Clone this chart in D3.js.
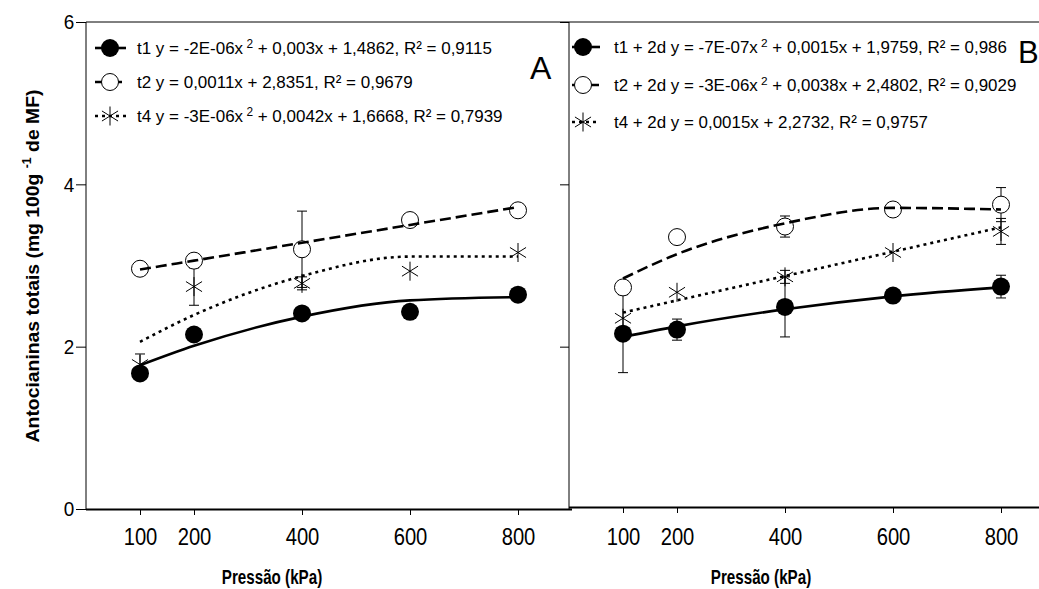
<!DOCTYPE html>
<html><head><meta charset="utf-8">
<script src="https://cdn.jsdelivr.net/npm/d3@7"></script>
<style>
html,body{margin:0;padding:0;background:#fff;}
svg{display:block;}
text{font-family:"Liberation Sans", Arial, sans-serif;}
</style></head>
<body>
<svg id="c" width="1039" height="589"></svg>
<script>
// ---- data ----
const pressures = [100, 200, 400, 600, 800];
const xTicks = [100, 200, 400, 600, 800];
const yTicks = [0, 2, 4, 6];

// Panel A observed means and error (±)
const aT1 = [1.67, 2.15, 2.41, 2.43, 2.64];
const aT1Err = [0, 0, 0, 0, 0];
const aT2 = [2.96, 3.06, 3.20, 3.56, 3.68];
const aT2Err = [0, 0, 0.47, 0, 0];
const aT4 = [1.78, 2.74, 2.78, 2.93, 3.16];
const aT4Err = [0.13, 0.23, 0.08, 0, 0];
// Panel A fitted curves
const aT1Fit = [1.77, 2.01, 2.37, 2.57, 2.61];
const aT2Fit = [2.95, 3.06, 3.28, 3.50, 3.72];
const aT4Fit = [2.06, 2.39, 2.87, 3.11, 3.11];

// Panel B observed means and error (±)
const bT1 = [2.16, 2.21, 2.49, 2.63, 2.74];
const bT1Err = [0.48, 0.13, 0.37, 0, 0.14];
const bT2 = [2.73, 3.35, 3.48, 3.69, 3.75];
const bT2Err = [0, 0, 0.13, 0, 0.21];
const bT4 = [2.35, 2.67, 2.86, 3.16, 3.42];
const bT4Err = [0, 0, 0.08, 0, 0.16];
// Panel B fitted curves
const bT1Fit = [2.12, 2.25, 2.46, 2.62, 2.73];
const bT2Fit = [2.84, 3.14, 3.52, 3.71, 3.69];
const bT4Fit = [2.42, 2.57, 2.87, 3.17, 3.47];

const legendA = [
  {pre: "t1 y = -2E-06x", sup: "2", post: " + 0,003x  + 1,4862, R² = 0,9115"},
  {pre: "t2 y = 0,0011x  + 2,8351, R² = 0,9679", sup: null, post: ""},
  {pre: "t4 y = -3E-06x", sup: "2", post: " + 0,0042x  + 1,6668, R² = 0,7939"}
];
const legendB = [
  {pre: "t1 + 2d y = -7E-07x", sup: "2", post: " + 0,0015x  + 1,9759, R² = 0,986"},
  {pre: "t2 + 2d y = -3E-06x", sup: "2", post: " + 0,0038x  + 2,4802, R² = 0,9029"},
  {pre: "t4 + 2d y = 0,0015x  + 2,2732, R² = 0,9757", sup: null, post: ""}
];

// ---- drawing ----
const svg = d3.select("#c");
const y = d3.scaleLinear().domain([0, 6]).range([509, 22]);
const xA = d3.scaleLinear().domain([0, 900]).range([86, 572]);
const xB = d3.scaleLinear().domain([0, 900]).range([569, 1055]);

const styles = {
  t1: {dash: null, marker: "filled"},
  t2: {dash: "11,5", marker: "open"},
  t4: {dash: "3,4", marker: "star"}
};

function drawMarker(g, type, cx, cy) {
  if (type === "filled") {
    g.append("circle").attr("cx", cx).attr("cy", cy).attr("r", 9).attr("fill", "#000");
  } else if (type === "open") {
    g.append("circle").attr("cx", cx).attr("cy", cy).attr("r", 8.5)
      .attr("fill", "#fff").attr("stroke", "#000").attr("stroke-width", 1);
  } else {
    const r = 9.5;
    [90, 32, -32].forEach(a => {
      const rad = a * Math.PI / 180;
      g.append("line")
        .attr("x1", cx - r * Math.cos(rad)).attr("y1", cy - r * Math.sin(rad))
        .attr("x2", cx + r * Math.cos(rad)).attr("y2", cy + r * Math.sin(rad))
        .attr("stroke", "#000").attr("stroke-width", 1);
    });
  }
}

function drawPanel(x, series) {
  const g = svg.append("g");
  series.forEach(s => {
    s.vals.forEach((v, i) => {
      const e = s.err[i];
      if (e > 0) {
        const px = x(pressures[i]);
        g.append("line").attr("x1", px).attr("x2", px).attr("y1", y(v + e)).attr("y2", y(v - e))
          .attr("stroke", "#000").attr("stroke-width", 1);
        [v + e, v - e].forEach(w => {
          g.append("line").attr("x1", px - 5).attr("x2", px + 5).attr("y1", y(w)).attr("y2", y(w))
            .attr("stroke", "#000").attr("stroke-width", 1);
        });
      }
    });
  });
  series.forEach(s => {
    s.vals.forEach((v, i) => drawMarker(g, styles[s.key].marker, x(pressures[i]), y(v)));
  });
  const line = d3.line().x((d, i) => x(pressures[i])).y(d => y(d)).curve(d3.curveMonotoneX);
  series.forEach(s => {
    g.append("path").attr("d", line(s.fit)).attr("fill", "none")
      .attr("stroke", "#000").attr("stroke-width", 2.6)
      .attr("stroke-dasharray", styles[s.key].dash);
  });
}

// Panel A frame
svg.append("line").attr("x1", 86).attr("x2", 569).attr("y1", 22).attr("y2", 22).attr("stroke", "#000").attr("stroke-width", 1);
svg.append("line").attr("x1", 569).attr("x2", 569).attr("y1", 22).attr("y2", 509).attr("stroke", "#000").attr("stroke-width", 1);
svg.append("line").attr("x1", 86).attr("x2", 86).attr("y1", 22).attr("y2", 509).attr("stroke", "#000").attr("stroke-width", 1);
svg.append("line").attr("x1", 86).attr("x2", 572).attr("y1", 509.5).attr("y2", 509.5).attr("stroke", "#000").attr("stroke-width", 2);
// Panel B frame
svg.append("line").attr("x1", 569).attr("x2", 1039).attr("y1", 22).attr("y2", 22).attr("stroke", "#000").attr("stroke-width", 1);
svg.append("line").attr("x1", 569).attr("x2", 1039).attr("y1", 507.5).attr("y2", 507.5).attr("stroke", "#000").attr("stroke-width", 2);

// Axes (condensed numerals)
function styleAxis(sel, fs, sx) {
  sel.select(".domain").remove();
  sel.selectAll("line").attr("stroke", "#000");
  sel.selectAll("text").attr("fill", "#000").style("font-size", fs + "px")
    .attr("transform", `scale(${sx},1)`);
}
const yAxA = svg.append("g").attr("transform", "translate(86,0)")
  .call(d3.axisLeft(y).tickValues(yTicks).tickSize(10).tickPadding(3).tickFormat(d3.format("d")));
styleAxis(yAxA, 21, 0.9);
const yAxB = svg.append("g").attr("transform", "translate(569,0)")
  .call(d3.axisLeft(y).tickValues(yTicks.filter(d => d > 0)).tickSize(9).tickFormat(""));
styleAxis(yAxB, 21, 1);
const xAxA = svg.append("g").attr("transform", "translate(0,509)")
  .call(d3.axisBottom(xA).tickValues(xTicks).tickSize(6).tickPadding(13).tickFormat(d3.format("d")));
styleAxis(xAxA, 23.5, 0.86);
const xAxB = svg.append("g").attr("transform", "translate(0,507)")
  .call(d3.axisBottom(xB).tickValues(xTicks).tickSize(6).tickPadding(15).tickFormat(d3.format("d")));
styleAxis(xAxB, 23.5, 0.86);

drawPanel(xA, [
  {key: "t4", vals: aT4, err: aT4Err, fit: aT4Fit},
  {key: "t2", vals: aT2, err: aT2Err, fit: aT2Fit},
  {key: "t1", vals: aT1, err: aT1Err, fit: aT1Fit}
]);
drawPanel(xB, [
  {key: "t4", vals: bT4, err: bT4Err, fit: bT4Fit},
  {key: "t2", vals: bT2, err: bT2Err, fit: bT2Fit},
  {key: "t1", vals: bT1, err: bT1Err, fit: bT1Fit}
]);

// Legends: font size fitted so the first row spans the same width as in the reference
function drawLegend(items, mx, lx1, lx2, tx, rows, targetW) {
  const keys = ["t1", "t2", "t4"];
  const texts = [];
  items.forEach((it, i) => {
    const k = keys[i], ry = rows[i];
    const g = svg.append("g");
    g.append("line").attr("x1", lx1).attr("x2", lx2).attr("y1", ry).attr("y2", ry)
      .attr("stroke", "#000").attr("stroke-width", 2.6).attr("stroke-dasharray", styles[k].dash);
    drawMarker(g, styles[k].marker, mx, ry);
    const t = g.append("text").attr("x", tx).attr("y", ry).attr("dy", "0.36em")
      .style("font-size", "15px").attr("fill", "#000");
    t.append("tspan").text(it.pre);
    if (it.sup) {
      t.append("tspan").text(" " + it.sup).style("font-size", "0.7em").attr("dy", "-0.55em");
      t.append("tspan").text(it.post).attr("dy", "0.385em");
    }
    texts.push(t);
  });
  const w = texts[0].node().getBBox().width;
  const fs = 15 * targetW / w;
  texts.forEach(t => t.style("font-size", fs + "px"));
}
drawLegend(legendA, 110, 95, 126, 137, [48, 82, 116], 355);
drawLegend(legendB, 583, 572, 600, 614, [47, 85, 122], 393);

// Panel letters
svg.append("text").attr("x", 530).attr("y", 79).text("A").style("font-size", "32px").attr("fill", "#000");
svg.append("text").attr("x", 1018).attr("y", 63).text("B").style("font-size", "31px").attr("fill", "#000");

// Axis titles (condensed bold)
[272, 761].forEach(cx => {
  svg.append("text").attr("transform", `translate(${cx},584) scale(0.76,1)`).attr("text-anchor", "middle")
    .style("font-weight", "bold").style("font-size", "20px").text("Pressão (kPa)");
});
const yl = svg.append("text").attr("transform", "translate(39,266) rotate(-90)").attr("text-anchor", "middle")
  .style("font-weight", "bold").style("font-size", "19px");
yl.append("tspan").text("Antocianinas totais (mg 100g ");
yl.append("tspan").text("-1").style("font-size", "12px").attr("dy", -8);
yl.append("tspan").text(" de MF)").attr("dy", 8);
(function () {
  const w = yl.node().getBBox().width;
  yl.attr("transform", `translate(39,266) rotate(-90) scale(${353 / w},1)`);
})();
</script>
</body></html>
